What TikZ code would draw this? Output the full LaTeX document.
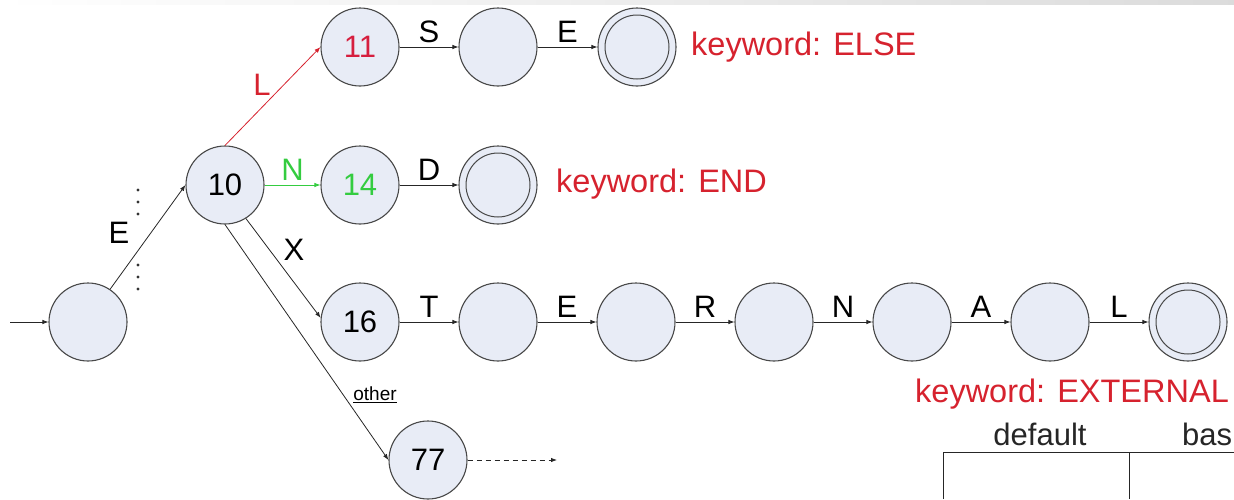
\documentclass[tikz,border=0pt]{standalone}
\usepackage{fontspec}
\setmainfont{Liberation Sans}
\usetikzlibrary{arrows.meta}
\definecolor{statefill}{RGB}{232,236,246}
\definecolor{stateline}{RGB}{72,72,72}
\definecolor{kwred}{RGB}{214,34,46}
\definecolor{numred}{RGB}{214,30,62}
\definecolor{kwgreen}{RGB}{52,204,64}
\begin{document}
\begin{tikzpicture}[x=1pt,y=-1pt,
  state/.style={circle,draw=stateline,fill=statefill,line width=1.1pt,
    minimum size=78pt,inner sep=0pt,font=\fontsize{31}{34}\selectfont},
  accepting/.style={state,path picture={\draw[stateline,line width=1pt]
    (path picture bounding box.center) circle (32pt);}},
  trans/.style={-{Latex[length=6pt,width=4.5pt]},line width=0.8pt,draw=black!85},
  lab/.style={font=\fontsize{31}{34}\selectfont,inner sep=1pt},
  kw/.style={font=\fontsize{32.5}{36}\selectfont,text=kwred,inner sep=0pt,anchor=base west},
  tabtext/.style={font=\fontsize{31}{34}\selectfont,text=black!85,inner sep=0pt,anchor=base}]
\useasboundingbox (0,0) rectangle (1234,499);
\clip (0,0) rectangle (1234,499);
\shade[left color=white,right color=black!14] (0,0) rectangle (1234,4);

% states
\node[state] (s0) at (88,322) {};
\node[state] (n10) at (225,185) {10};
\node[state,text=numred] (n11) at (360,47) {11};
\node[state] (nS) at (498,47) {};
\node[accepting] (fE) at (637,47) {};
\node[state,text=kwgreen] (n14) at (360,185) {14};
\node[accepting] (fD) at (498,185) {};
\node[state] (n16) at (360,322) {16};
\node[state] (a1) at (498,322) {};
\node[state] (a2) at (636,322) {};
\node[state] (a3) at (774,322) {};
\node[state] (a4) at (912,322) {};
\node[state] (a5) at (1050,322) {};
\node[accepting] (fL) at (1188,322) {};
\node[state] (n77) at (428,460) {77};

% start arrow and the E transition
\coordinate (entry) at (10,322);
\draw[trans] (entry) -- (s0.west);
\draw[trans] (s0.56) -- (n10.west);
\node[lab] (lE) at (119,233) {E};
\foreach \yy in {190,202,214,265,277,289}
  \fill[black!80] (138,\yy) circle (1.6pt);

% branches out of state 10
\draw[trans,draw=kwred] (n10.north) -- (n11.west);
\node[lab,text=kwred] (lL) at (262,85) {L};
\draw[trans,draw=kwgreen] (n10) -- node[lab,above=3pt,text=kwgreen] {N} (n14);
\draw[trans] (n10.-58) -- (n16.174);
\node[lab] (lX) at (294,250) {X};
\draw[trans] (n10.south) -- (n77.west);
\node[font=\fontsize{19}{21}\selectfont,inner sep=0pt] (lother) at (375,395) {\underline{other}};
\coordinate (more) at (557,460);
\draw[trans,dashed,dash pattern=on 5pt off 4pt] (n77) -- (more);

% ELSE
\draw[trans] (n11) -- node[lab,above=3pt] {S} (nS);
\draw[trans] (nS) -- node[lab,above=3pt] {E} (fE);
% END
\draw[trans] (n14) -- node[lab,above=3pt] {D} (fD);
% EXTERNAL
\draw[trans] (n16) -- node[lab,above=3pt] {T} (a1);
\draw[trans] (a1) -- node[lab,above=3pt] {E} (a2);
\draw[trans] (a2) -- node[lab,above=3pt] {R} (a3);
\draw[trans] (a3) -- node[lab,above=3pt] {N} (a4);
\draw[trans] (a4) -- node[lab,above=3pt] {A} (a5);
\draw[trans] (a5) -- node[lab,above=3pt] {L} (fL);

% keyword annotations
\node[kw] (kElse) at (691,55) {keyword: ELSE};
\node[kw] (kEnd) at (556,192) {keyword: END};
\node[kw] (kExt) at (915,402) {keyword: EXTERNAL};

% table fragment
\node[tabtext] (tDefault) at (1040,445) {default};
\node[tabtext,anchor=base west] (tBase) at (1182,445) {bas};
\draw[black!85,line width=1pt] (943,499) -- (943,452) -- (1234,452);
\draw[black!85,line width=1pt] (1129,452) -- (1129,499);
\end{tikzpicture}
\end{document}
